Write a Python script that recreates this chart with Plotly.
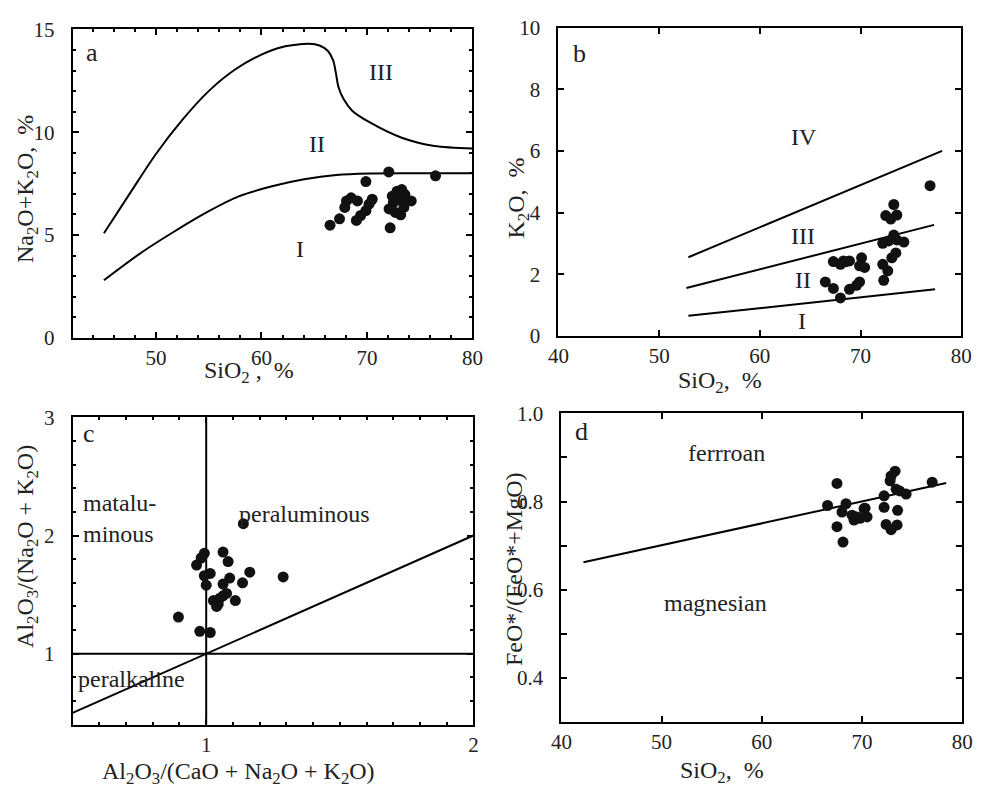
import plotly.graph_objects as go

FONT = "Liberation Serif"
W, H = 984, 791

# ---------------- a: Na2O+K2O vs SiO2 ----------------
a_sio2 = [66.5, 67.4, 69.0, 69.4, 69.9, 70.2, 70.5, 69.9, 67.9, 68.06, 68.5, 69.1,
          72.07, 76.5, 72.4, 72.85, 73.3, 73.6, 73.3, 72.5, 72.1, 72.7, 73.2, 73.5,
          74.2, 72.2, 73.0]
a_alk = [5.48, 5.79, 5.71, 5.95, 6.19, 6.5, 6.74, 7.6, 6.34, 6.66, 6.81, 6.66,
         8.07, 7.88, 6.89, 7.13, 7.21, 6.97, 6.66, 6.58, 6.27, 6.1, 5.98, 6.34,
         6.66, 5.35, 7.05]
a_upper_x = [45.07, 47.5, 50.0, 52.5, 55.0, 57.5, 60.0, 62.0, 64.5, 65.5, 66.3,
             66.8, 67.05, 67.3, 67.8, 68.6, 70.2, 73.3, 76.4, 80.0]
a_upper_y = [5.09, 7.0, 8.94, 10.6, 12.0, 13.05, 13.78, 14.15, 14.3, 14.22, 13.95,
             13.5, 12.9, 12.2, 11.6, 11.05, 10.5, 9.73, 9.33, 9.21]
a_lower_x = [45.07, 48.6, 51.7, 54.8, 57.9, 61.0, 64.05, 67.1, 70.2, 75.0, 80.0]
a_lower_y = [2.8, 4.14, 5.16, 6.1, 6.89, 7.37, 7.71, 7.92, 7.99, 8.0, 8.0]

# ---------------- b: K2O vs SiO2 ----------------
b_sio2 = [76.9, 73.3, 72.5, 73.6, 73.0, 73.3, 72.2, 72.8, 73.6, 74.3, 73.5, 73.1,
          72.2, 72.7, 72.3, 67.3, 68.0, 68.3, 68.9, 70.1, 69.9, 70.4, 66.5, 67.3,
          68.0, 68.9, 69.6, 69.9, 68.5]
b_k2o = [4.87, 4.26, 3.9, 3.92, 3.79, 3.27, 3.0, 3.08, 3.11, 3.04, 2.69, 2.53,
         2.32, 2.11, 1.8, 2.41, 2.32, 2.43, 2.43, 2.53, 2.27, 2.22, 1.75, 1.54,
         1.23, 1.51, 1.64, 1.75, 2.4]
b_line_iv_x, b_line_iv_y = [52.9, 78.1], [2.55, 6.0]
b_line_iii_x, b_line_iii_y = [52.7, 77.3], [1.55, 3.6]
b_line_ii_x, b_line_ii_y = [52.9, 77.4], [0.65, 1.51]

# ---------------- c: A/NK vs A/CNK ----------------
c_acnk = [1.139, 0.993, 0.981, 0.964, 1.063, 1.082, 1.015, 0.993, 1.0, 1.088,
          1.063, 1.163, 1.136, 1.288, 1.027, 1.045, 1.063, 1.076, 1.039, 1.109,
          0.896, 0.976, 1.015, 1.051]
c_ank = [2.10, 1.85, 1.81, 1.75, 1.86, 1.78, 1.68, 1.66, 1.58, 1.64, 1.59, 1.69,
         1.60, 1.65, 1.45, 1.42, 1.49, 1.51, 1.40, 1.45, 1.31, 1.19, 1.18, 1.47]
c_diag_x, c_diag_y = [0.5, 2.0], [0.5, 2.0]

# ---------------- d: FeO*/(FeO*+MgO) vs SiO2 ----------------
d_sio2 = [66.56, 68.4, 68.0, 69.0, 69.2, 69.8, 70.3, 70.5, 67.5, 68.1, 72.2, 73.55,
          72.2, 72.4, 72.9, 73.5, 74.4, 73.4, 67.5, 77.0, 73.3, 72.9, 72.8, 73.75,
          70.2, 69.5]
d_fe = [0.791, 0.795, 0.776, 0.769, 0.758, 0.762, 0.785, 0.765, 0.743, 0.708, 0.787,
        0.780, 0.813, 0.748, 0.736, 0.747, 0.817, 0.828, 0.841, 0.844, 0.869, 0.858,
        0.847, 0.824, 0.784, 0.765]
d_line_x, d_line_y = [42.2, 78.4], [0.662, 0.842]

fig = go.Figure()

LINE = dict(color="black", width=2)
MARK = dict(color="#111111", size=11)


def curve(x, y, xa, ya, shape="linear"):
    fig.add_trace(go.Scatter(x=x, y=y, mode="lines",
                             line=dict(LINE, shape=shape, smoothing=0.8),
                             xaxis=xa, yaxis=ya, showlegend=False, hoverinfo="skip"))


def dots(x, y, xa, ya):
    fig.add_trace(go.Scatter(x=x, y=y, mode="markers", marker=MARK,
                             xaxis=xa, yaxis=ya, showlegend=False))


curve(a_upper_x, a_upper_y, "x", "y", "spline")
curve(a_lower_x, a_lower_y, "x", "y", "spline")
dots(a_sio2, a_alk, "x", "y")

curve(b_line_iv_x, b_line_iv_y, "x2", "y2")
curve(b_line_iii_x, b_line_iii_y, "x2", "y2")
curve(b_line_ii_x, b_line_ii_y, "x2", "y2")
dots(b_sio2, b_k2o, "x2", "y2")

curve([1, 1], [0.4, 3.0], "x3", "y3")
curve([0.5, 2.0], [1, 1], "x3", "y3")
curve(c_diag_x, c_diag_y, "x3", "y3")
dots(c_acnk, c_ank, "x3", "y3")

curve(d_line_x, d_line_y, "x4", "y4")
dots(d_sio2, d_fe, "x4", "y4")


def axis(domain, rng, anchor, tickvals, ticktext=None, minor=None, ticklen=6,
         standoff=0):
    ax = dict(domain=domain, range=rng, anchor=anchor, showgrid=False, zeroline=False,
              showline=True, linecolor="black", linewidth=2, mirror="allticks",
              ticks="inside", ticklen=ticklen, tickwidth=1.5, tickcolor="black",
              tickmode="array", tickvals=tickvals,
              ticktext=ticktext if ticktext is not None else [str(v) for v in tickvals],
              tickfont=dict(family=FONT, size=21, color="#222222"),
              ticklabelstandoff=standoff)
    if minor:
        ax["minor"] = dict(tickmode="linear", tick0=minor[0], dtick=minor[1],
                           ticks="inside", ticklen=minor[2], tickwidth=1.5,
                           tickcolor="black", showgrid=False)
    return ax


def px_x(p):
    return p / W


def px_y(p):
    return 1 - p / H


XS, YS = 0, 12  # label standoffs for x and y axes

layout = dict(
    width=W, height=H, margin=dict(l=0, r=0, t=0, b=0),
    plot_bgcolor="white", paper_bgcolor="white", showlegend=False,
    xaxis=axis([px_x(63), px_x(472)], [42.1, 80], "y", [50, 60, 70, 80],
               minor=(42, 2, 3), standoff=XS),
    yaxis=axis([px_y(336), px_y(18)], [0, 15], "x", [0, 5, 10, 15],
               minor=(0, 1, 3), standoff=YS),
    xaxis2=axis([px_x(560), px_x(972)], [40, 80], "y2", [40, 50, 60, 70, 80],
                standoff=XS),
    yaxis2=axis([px_y(334), px_y(16)], [0, 10], "x2", [0, 2, 4, 6, 8, 10],
                standoff=YS),
    xaxis3=axis([px_x(63), px_x(473)], [0.5, 2], "y3", [1, 2],
                minor=(0.5, 0.1, 3), standoff=XS),
    yaxis3=axis([px_y(735), px_y(418)], [0.4, 3], "x3", [1, 2, 3],
                minor=(0.4, 0.2, 3), standoff=YS),
    xaxis4=axis([px_x(563), px_x(973)], [40, 80], "y4", [40, 50, 60, 70, 80],
                standoff=XS),
    yaxis4=axis([px_y(732), px_y(414)], [0.3, 1.0], "x4", [0.4, 0.6, 0.8, 1.0],
                ticktext=["0.4", "0.6", "0.8", "1.0"], minor=(0.3, 0.1, 6),
                standoff=YS),
)
fig.update_layout(**layout)

ann = []


def text(x, y, s, xref, yref, size=24, angle=0, xanchor="center", align="center"):
    ann.append(dict(x=x, y=y, text=s, xref=xref, yref=yref, showarrow=False,
                    font=dict(family=FONT, size=size, color="#222222"),
                    textangle=angle, xanchor=xanchor, yanchor="middle", align=align))


# panel letters
text(83, 41.7, "a", "paper", "paper", size=26)
text(582, 43, "b", "paper", "paper", size=26)
text(80, 435, "c", "paper", "paper", size=26)
text(584, 433, "d", "paper", "paper", size=26)

# region labels inside the panels
text(71.35, 12.95, "III", "x", "y")
text(65.3, 9.41, "II", "x", "y")
text(63.7, 4.3, "I", "x", "y")

text(64.4, 6.46, "IV", "x2", "y2")
text(64.3, 3.25, "III", "x2", "y2")
text(64.3, 1.8, "II", "x2", "y2")
text(64.2, 0.49, "I", "x2", "y2")

text(0.533, 2.14, "matalu-<br>minous", "x3", "y3", xanchor="left", align="left")
text(1.367, 2.18, "peraluminous", "x3", "y3")
text(0.72, 0.79, "peralkaline", "x3", "y3")

text(56.5, 0.91, "ferrroan", "x4", "y4")
text(55.4, 0.569, "magnesian", "x4", "y4")

# axis titles
text(243, 371, "SiO<sub>2</sub> ,  %", "paper", "paper")
text(17, 183, "Na<sub>2</sub>O+K<sub>2</sub>O,  %", "paper", "paper", angle=-90)
text(725, 382, "SiO<sub>2</sub>,  %", "paper", "paper")
text(519, 192, "K<sub>2</sub>O,  %", "paper", "paper", angle=-90)
text(233, 785, "Al<sub>2</sub>O<sub>3</sub>/(CaO + Na<sub>2</sub>O + K<sub>2</sub>O)",
     "paper", "paper")
text(17, 551, "Al<sub>2</sub>O<sub>3</sub>/(Na<sub>2</sub>O + K<sub>2</sub>O)",
     "paper", "paper", angle=-90)
text(727, 784, "SiO<sub>2</sub>,  %", "paper", "paper")
text(514, 575, "FeO*/(FeO*+MgO)", "paper", "paper", angle=-90)

for a in ann:
    if a["xref"] == "paper":
        a["x"] = px_x(a["x"])
        a["y"] = px_y(a["y"])

fig.update_layout(annotations=ann)
fig.write_html("out.html")
